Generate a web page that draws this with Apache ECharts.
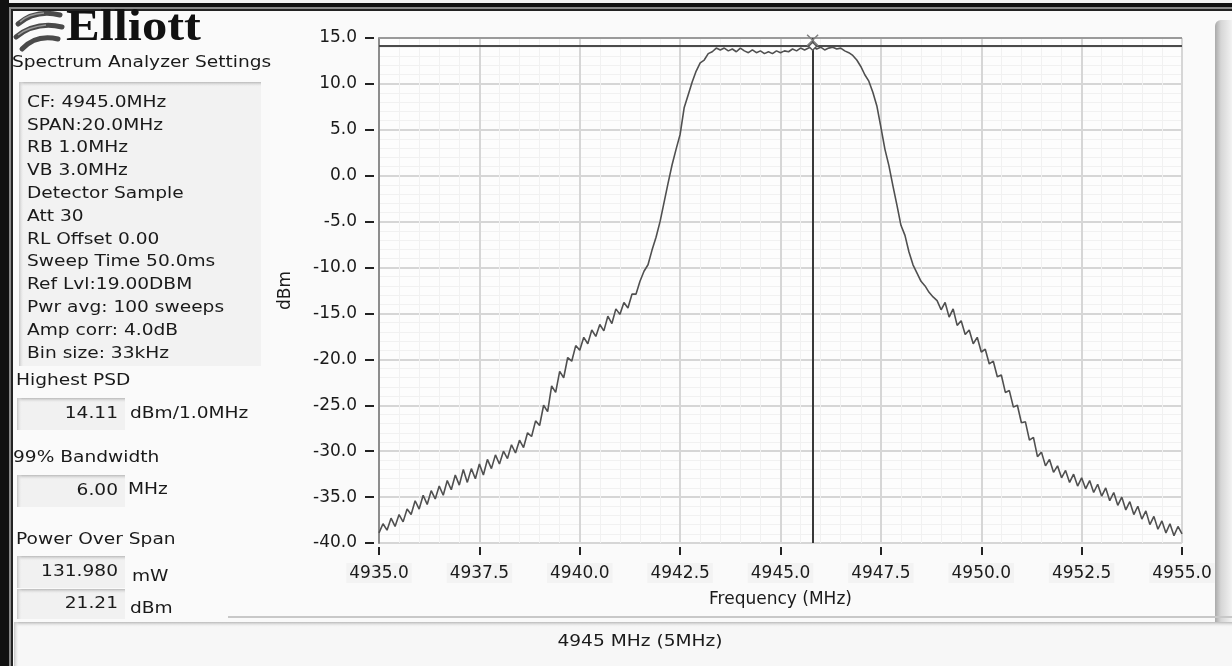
<!DOCTYPE html>
<html>
<head>
<meta charset="utf-8">
<script src="https://cdn.jsdelivr.net/npm/echarts@6.0.0/dist/echarts.min.js"></script>
<style>
  html, body { margin: 0; padding: 0; background: #fafafa; }
  #chart { width: 1232px; height: 666px; }
</style>
</head>
<body>
<div id="chart"></div>
<script>
// ---------- data ----------
const freqStart = 4935.0;   // MHz, first bin
const freqStep = 0.1;       // MHz per listed point
const levelsDbm = [
  -38.9,-37.9,-38.6,-37.3,-38.2,-36.9,-37.7,-36.3,-36.9,-35.4,
  -36.3,-34.8,-35.8,-34.3,-35.2,-33.8,-34.8,-33.2,-34.2,-32.6,
  -33.7,-32.0,-33.4,-31.9,-33.0,-31.4,-32.6,-30.9,-31.9,-30.4,
  -31.4,-30.0,-30.8,-29.3,-30.2,-28.8,-29.6,-28.0,-28.4,-26.7,
  -27.2,-25.0,-25.7,-22.9,-23.6,-21.3,-22.0,-19.8,-20.2,-18.5,
  -19.0,-17.6,-18.3,-16.8,-17.5,-16.2,-16.9,-15.3,-16.1,-14.5,
  -15.1,-13.8,-14.4,-12.9,-12.9,-11.5,-10.4,-9.7,-8.1,-6.7,
  -5.0,-2.9,-0.8,1.2,2.9,4.5,7.4,8.8,10.2,11.4,
  12.3,12.6,13.3,13.5,13.9,13.7,13.9,13.6,13.8,13.5,
  13.9,13.6,13.4,13.7,13.4,13.6,13.3,13.5,13.3,13.6,
  13.4,13.6,13.5,13.8,13.6,13.9,13.7,13.9,14.1,13.8,
  14.0,13.7,13.9,14.0,13.8,13.9,13.6,13.4,13.1,12.6,
  11.9,11.0,10.3,9.1,7.6,5.3,2.9,1.1,-1.1,-3.2,
  -5.4,-6.5,-8.3,-9.7,-10.6,-11.5,-12.0,-12.7,-13.2,-13.6,
  -14.6,-13.8,-15.4,-14.5,-16.3,-15.8,-17.3,-16.8,-18.3,-17.6,
  -19.2,-18.9,-20.5,-20.2,-21.9,-21.7,-23.6,-23.4,-25.2,-25.0,
  -26.9,-26.8,-28.8,-28.5,-30.6,-30.1,-31.6,-30.9,-32.3,-31.6,
  -32.9,-32.1,-33.4,-32.5,-33.8,-32.9,-34.1,-33.2,-34.5,-33.6,
  -34.9,-34.0,-35.4,-34.5,-35.9,-35.0,-36.4,-35.5,-36.9,-36.0,
  -37.4,-36.5,-38.0,-37.1,-38.5,-37.6,-38.9,-37.9,-39.2,-38.2,
  -39.0
];
const markerFreq = 4945.8;   // MHz
const markerLevel = 14.11;   // dBm (highest PSD)
const xMin = 4935, xMax = 4955, xStep = 2.5;
const yMin = -40, yMax = 15, yStep = 5;
const xTitle = 'Frequency (MHz)';
const yTitle = 'dBm';

const settingsTitle = 'Spectrum Analyzer Settings';
const settingsLines = [
  'CF: 4945.0MHz', 'SPAN:20.0MHz', 'RB 1.0MHz', 'VB 3.0MHz', 'Detector Sample',
  'Att 30', 'RL Offset 0.00', 'Sweep Time 50.0ms', 'Ref Lvl:19.00DBM',
  'Pwr avg: 100 sweeps', 'Amp corr: 4.0dB', 'Bin size: 33kHz'
];
const readoutLabels = ['Highest PSD', '99% Bandwidth', 'Power Over Span'];
const readoutValues = ['14.11', '6.00', '131.980', '21.21'];
const readoutUnits = ['dBm/1.0MHz', 'MHz', 'mW', 'dBm'];
const footerText = '4945 MHz (5MHz)';

// ---------- helpers ----------
const FONT = '"DejaVu Sans", Verdana, sans-serif';
const SX = 1.24;
function stext(x, y, str, align, size) {
  return {
    type: 'group', x: x, y: y, scaleX: SX,
    children: [{
      type: 'text',
      style: {
        text: str, x: 0, y: 0, fill: '#1a1a1a',
        font: (size || 15) + 'px ' + FONT,
        textAlign: align || 'left', align: align || 'left',
        textVerticalAlign: 'middle', verticalAlign: 'middle'
      }
    }]
  };
}
function bevelBox(x, y, w, h, fill) {
  return [
    { type: 'rect', shape: { x: x, y: y, width: w, height: h }, style: { fill: fill || '#f1f1f1' } },
    { type: 'rect', shape: { x: x, y: y, width: w, height: 5 },
      style: { fill: new echarts.graphic.LinearGradient(0, 0, 0, 1, [{offset: 0, color: '#b9b9b9'}, {offset: 1, color: 'rgba(241,241,241,0)'}]) } },
    { type: 'rect', shape: { x: x, y: y, width: 5, height: h },
      style: { fill: new echarts.graphic.LinearGradient(0, 0, 1, 0, [{offset: 0, color: '#c4c4c4'}, {offset: 1, color: 'rgba(241,241,241,0)'}]) } }
  ];
}

const seriesData = levelsDbm.map((v, i) => [+(freqStart + i * freqStep).toFixed(2), v]);

// ---------- decorations ----------
const graphics = [];
graphics.push({ type: 'rect', shape: { x: 0, y: 0, width: 1232, height: 4 }, style: { fill: '#f4f4f4' } });
graphics.push({ type: 'rect', shape: { x: 0, y: 3, width: 1232, height: 4 }, style: { fill: '#111' } });
graphics.push({ type: 'rect', shape: { x: 0, y: 7, width: 1232, height: 2 }, style: { fill: '#8a8a8a' } });
graphics.push({ type: 'rect', shape: { x: 0, y: 9, width: 1232, height: 2 }, style: { fill: '#222' } });
graphics.push({ type: 'rect', shape: { x: 0, y: 0, width: 9, height: 666 }, style: { fill: '#111' } });
graphics.push({ type: 'rect', shape: { x: 9, y: 9, width: 2, height: 657 }, style: { fill: '#8a8a8a' } });
graphics.push({ type: 'rect', shape: { x: 11, y: 9, width: 2, height: 657 }, style: { fill: '#222' } });

graphics.push({ type: 'rect', shape: { x: 1215, y: 20, width: 17, height: 602, r: [6, 0, 0, 0] },
  style: { fill: new echarts.graphic.LinearGradient(0, 0, 1, 0, [{offset: 0, color: '#a9a9a9'}, {offset: 0.35, color: '#d6d6d6'}, {offset: 1, color: '#f2f2f2'}]) } });

graphics.push({ type: 'rect', shape: { x: 228, y: 616, width: 1004, height: 2 }, style: { fill: '#c8c8c8' } });
graphics.push.apply(graphics, bevelBox(14, 622, 1218, 44, '#f7f7f7'));
graphics.push(stext(640, 642, footerText, 'center'));

// logo
const swirl = { stroke: '#4a4a4a', lineWidth: 5, fill: null, lineCap: 'round' };
function swoosh(x1, y1, cx, cy, x2, y2, st) {
  return { type: 'bezierCurve', shape: { x1: x1, y1: y1, cpx1: cx, cpy1: cy, x2: x2, y2: y2 }, style: st };
}
graphics.push(swoosh(60, 15, 36, 9, 18, 24, swirl));
graphics.push(swoosh(62, 27, 36, 21, 16, 37, swirl));
graphics.push(swoosh(58, 39, 36, 34, 22, 49, swirl));
graphics.push(swoosh(44, 13, 28, 14, 20, 22, { stroke: '#9a9a9a', lineWidth: 1.5, fill: null }));
graphics.push(swoosh(46, 25, 28, 27, 18, 35, { stroke: '#9a9a9a', lineWidth: 1.5, fill: null }));
graphics.push({
  type: 'group', x: 66, y: 29, scaleX: 1.15,
  children: [{ type: 'text', style: { text: 'Elliott', x: 0, y: 0, fill: '#111',
    font: 'bold 44px "Liberation Serif", "Times New Roman", serif',
    textAlign: 'left', align: 'left', textVerticalAlign: 'middle', verticalAlign: 'middle' } }]
});

// settings panel
graphics.push(stext(12, 63, settingsTitle, 'left'));
graphics.push.apply(graphics, bevelBox(19, 82, 242, 284, '#f2f2f2'));
settingsLines.forEach(function (t, i) {
  graphics.push(stext(27, 103 + i * 22.8, t, 'left'));
});

// readouts
graphics.push(stext(16, 381, readoutLabels[0], 'left'));
graphics.push(stext(13, 458, readoutLabels[1], 'left'));
graphics.push(stext(16, 540, readoutLabels[2], 'left'));
const boxY = [398, 475, 556, 589];
const boxH = [32, 32, 32, 30];
const unitX = [130, 128, 132, 130];
const unitDy = [0, -1, 5, 5];
boxY.forEach(function (by, i) {
  graphics.push.apply(graphics, bevelBox(17, by, 108, boxH[i], '#f1f1f1'));
  graphics.push(stext(118, by + boxH[i] / 2, readoutValues[i], 'right'));
  graphics.push(stext(unitX[i], by + boxH[i] / 2 + unitDy[i], readoutUnits[i], 'left'));
});

// ---------- chart ----------
const chart = echarts.init(document.getElementById('chart'), null, { renderer: 'canvas' });
const axisFont = { fontFamily: FONT, fontSize: 17, color: '#1a1a1a' };
chart.setOption({
  animation: false,
  backgroundColor: '#fafafa',
  graphic: graphics,
  grid: { left: 379, top: 38, width: 803, height: 505, show: true, backgroundColor: '#fdfdfd', borderWidth: 0 },
  xAxis: {
    type: 'value', min: xMin, max: xMax, interval: xStep, offset: 4, position: 'bottom',
    name: xTitle, nameLocation: 'middle', nameGap: 44,
    nameTextStyle: axisFont,
    axisLine: { show: false, onZero: false },
    axisTick: { show: true, length: 8, lineStyle: { color: '#222', width: 2 } },
    axisLabel: Object.assign({ margin: 16, formatter: v => v.toFixed(1),
      backgroundColor: '#f3f3f3', padding: [2, 3, 1, 3] }, axisFont),
    splitLine: { show: true, lineStyle: { color: '#d6d6d6', width: 2 } },
    minorTick: { show: false, splitNumber: 5 },
    minorSplitLine: { show: true, lineStyle: { color: '#f1f1f1', width: 1 } }
  },
  yAxis: [{
    type: 'value', min: yMin, max: yMax, interval: yStep, offset: 5, position: 'left',
    name: yTitle, nameLocation: 'middle', nameGap: 80, nameRotate: 90,
    nameTextStyle: axisFont,
    axisLine: { show: false, onZero: false },
    axisTick: { show: true, length: 9, lineStyle: { color: '#222', width: 2 } },
    axisLabel: Object.assign({ margin: 17, formatter: v => v.toFixed(1) }, axisFont),
    splitLine: { show: true, lineStyle: { color: '#d6d6d6', width: 2 } },
    minorTick: { show: false, splitNumber: 5 },
    minorSplitLine: { show: true, lineStyle: { color: '#f1f1f1', width: 1 } }
  }, {
    type: 'value', min: yMin, max: yMax, interval: yStep, offset: 0, position: 'left',
    axisLine: { show: true, onZero: false, lineStyle: { color: '#8c8c8c', width: 2 } },
    axisTick: { show: false }, axisLabel: { show: false }, splitLine: { show: false }
  }],
  series: [{
    type: 'line', yAxisIndex: 0,
    data: seriesData,
    showSymbol: false,
    lineStyle: { color: '#505050', width: 1.6 },
    markLine: {
      silent: true, symbol: 'none', label: { show: false },
      data: [
        { yAxis: yMax, lineStyle: { color: '#9a9a9a', width: 2, type: 'solid' } },
        { yAxis: markerLevel, lineStyle: { color: '#4a4a4a', width: 2, type: 'solid' } },
        { xAxis: markerFreq, lineStyle: { color: '#3a3a3a', width: 2, type: 'solid' } }
      ]
    },
    markPoint: {
      silent: true, label: { show: false },
      data: [
        { coord: [markerFreq, markerLevel], symbol: 'path://M0,0L10,10M10,0L0,10', symbolSize: 11,
          symbolOffset: [0, -6], itemStyle: { color: 'none', borderColor: '#808080', borderWidth: 1.5 } },
        { coord: [markerFreq, markerLevel], symbol: 'diamond', symbolSize: 8,
          itemStyle: { color: '#fdfdfd', borderColor: '#555', borderWidth: 1.5 } }
      ]
    }
  }]
});
</script>
</body>
</html>
